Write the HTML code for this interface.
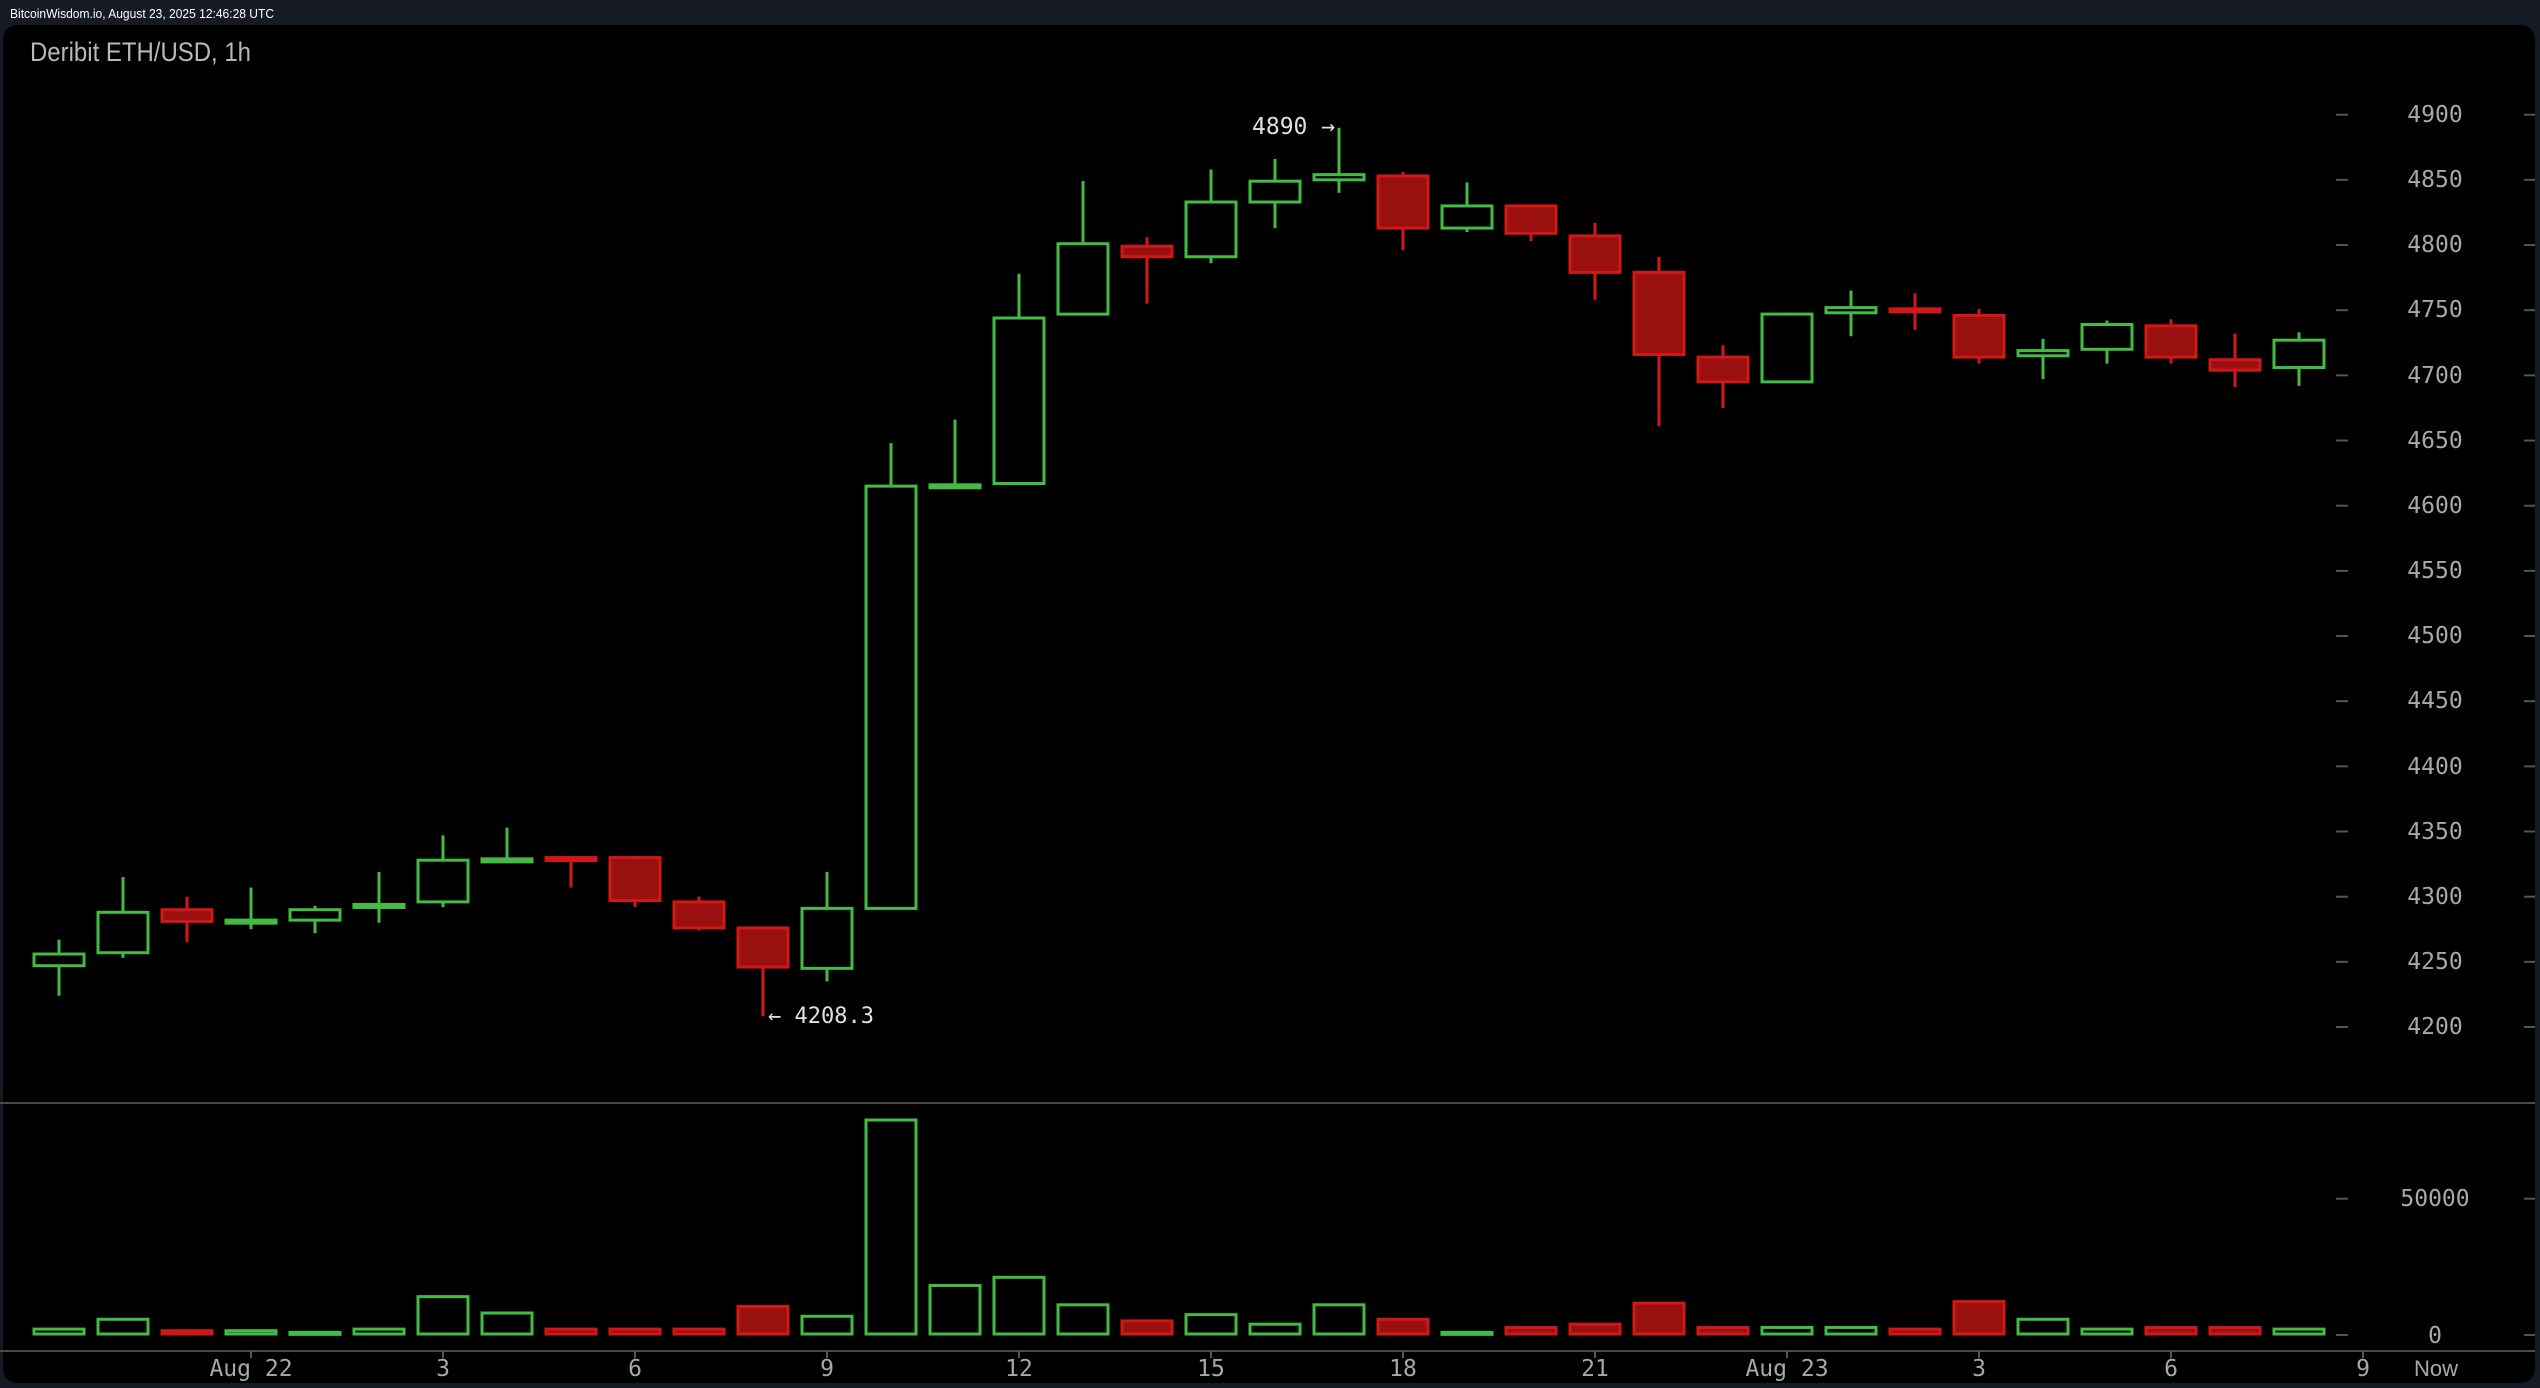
<!DOCTYPE html>
<html><head><meta charset="utf-8"><style>
html,body{margin:0;padding:0;background:#161a25;width:2540px;height:1388px;overflow:hidden}
svg{display:block}
</style></head><body>
<svg id="s" width="2540" height="1388" xmlns="http://www.w3.org/2000/svg">
<rect x="0" y="0" width="2540" height="1388" fill="#161a25"/>
<rect x="3" y="25" width="2532" height="1358" rx="14" fill="#000"/>
<text x="10" y="18" font-family="Liberation Sans, sans-serif" font-size="13" fill="#fff" textLength="264" lengthAdjust="spacingAndGlyphs">BitcoinWisdom.io, August 23, 2025 12:46:28 UTC</text>
<text x="30" y="61" font-family="Liberation Sans, sans-serif" font-size="27" fill="#b8b8b8" textLength="221" lengthAdjust="spacingAndGlyphs">Deribit ETH/USD, 1h</text>
<line x1="0" y1="1103" x2="2535" y2="1103" stroke="#4a4a4a" stroke-width="2"/>
<line x1="0" y1="1351" x2="2535" y2="1351" stroke="#4a4a4a" stroke-width="2"/>
<g id="g" font-family="DejaVu Sans Mono, Liberation Mono, monospace" font-size="23" fill="#a8a8a8" text-anchor="middle">
<text x="2435" y="122">4900</text><text x="2435" y="187">4850</text><text x="2435" y="252">4800</text><text x="2435" y="317">4750</text><text x="2435" y="383">4700</text><text x="2435" y="448">4650</text><text x="2435" y="513">4600</text><text x="2435" y="578">4550</text><text x="2435" y="643">4500</text><text x="2435" y="708">4450</text><text x="2435" y="774">4400</text><text x="2435" y="839">4350</text><text x="2435" y="904">4300</text><text x="2435" y="969">4250</text><text x="2435" y="1034">4200</text>
<text x="2435" y="1206">50000</text><text x="2435" y="1343">0</text>
<text x="251" y="1376">Aug 22</text><text x="443" y="1376">3</text><text x="635" y="1376">6</text><text x="827" y="1376">9</text><text x="1019" y="1376">12</text><text x="1211" y="1376">15</text><text x="1403" y="1376">18</text><text x="1595" y="1376">21</text><text x="1787" y="1376">Aug 23</text><text x="1979" y="1376">3</text><text x="2171" y="1376">6</text><text x="2363" y="1376">9</text>
<text x="2436" y="1376" font-family="Liberation Sans, sans-serif" font-size="22">Now</text>
</g>
<text x="1252" y="134" font-family="DejaVu Sans Mono, Liberation Mono, monospace" font-size="23" fill="#e0e0e0">4890 →</text>
<text x="768" y="1023" font-family="DejaVu Sans Mono, Liberation Mono, monospace" font-size="22" fill="#e0e0e0">← 4208.3</text>
</svg>
<script>
var s=document.getElementById('s'),NS='http://www.w3.org/2000/svg';
function el(t,a){var e=document.createElementNS(NS,t);for(var k in a)e.setAttribute(k,a[k]);s.appendChild(e);return e}
function Y(p){return 114.7+(4900-p)*1.3033}
function VY(v){return 1334-v*0.002726}
var d=[[4247,4256,4267,4224,1800],[4257,4288,4315,4253,5400],[4290,4281,4300,4265,1200],[4280,4282,4307,4275,1200],[4282,4290,4293,4272,600],[4292,4294,4319,4280,1800],[4296,4328,4347,4292,13700],[4328,4329,4353,4327,7700],[4330,4328,4331,4307,1800],[4330,4297,4331,4292,1800],[4296,4276,4300,4274,1800],[4276,4246,4277,4208.3,10100],[4245,4291,4319,4235,6500],[4291,4615,4648,4291,78500],[4615,4616,4666,4615,17800],[4617,4744,4778,4617,20800],[4747,4801,4849,4747,10700],[4799,4791,4806,4755,4800],[4791,4833,4858,4786,7100],[4833,4849,4866,4813,3600],[4850,4854,4890,4840,10700],[4853,4813,4856,4796,5400],[4813,4830,4848,4810,600],[4830,4809,4831,4803,2400],[4807,4779,4817,4758,3600],[4779,4716,4791,4661,11300],[4714,4695,4723,4675,2400],[4695,4747,4748,4695,2400],[4748,4752,4765,4730,2400],[4751,4749,4763,4735,1800],[4746,4714,4751,4709,11900],[4715,4719,4728,4697,5400],[4720,4739,4742,4709,1800],[4738,4714,4743,4709,2400],[4712,4704,4732,4691,2400],[4706,4727,4733,4692,1800]];
var G='#44bb44',R='#d01818',RF='#9a1010';
d.forEach(function(c,i){var x=59+i*64,up=c[1]>=c[0],col=up?G:R;
 var t=Y(Math.max(c[0],c[1])),b=Y(Math.min(c[0],c[1]));if(b-t<3){b=t+3}
 el('line',{x1:x,y1:Y(c[2]),x2:x,y2:Y(c[3]),stroke:col,'stroke-width':3});
 el('rect',{x:x-25,y:t,width:50,height:b-t,fill:up?'#000':RF,stroke:col,'stroke-width':3});
 var vt=VY(c[4]);el('rect',{x:x-25,y:vt,width:50,height:Math.max(1334-vt,2),fill:up?'#000':RF,stroke:col,'stroke-width':3});
});
var ts=[4900,4850,4800,4750,4700,4650,4600,4550,4500,4450,4400,4350,4300,4250,4200];
ts.forEach(function(p){var y=Y(p);el('line',{x1:2336,y1:y,x2:2348,y2:y,stroke:'#555','stroke-width':2});el('line',{x1:2524,y1:y,x2:2535,y2:y,stroke:'#555','stroke-width':2})});
[1198.7,1335].forEach(function(y){el('line',{x1:2336,y1:y,x2:2348,y2:y,stroke:'#555','stroke-width':2});el('line',{x1:2524,y1:y,x2:2535,y2:y,stroke:'#555','stroke-width':2})});
for(var k=3;k<=36;k+=3){var x=59+k*64;el('line',{x1:x,y1:1351,x2:x,y2:1358,stroke:'#555','stroke-width':2})}
</script>
</body></html>
